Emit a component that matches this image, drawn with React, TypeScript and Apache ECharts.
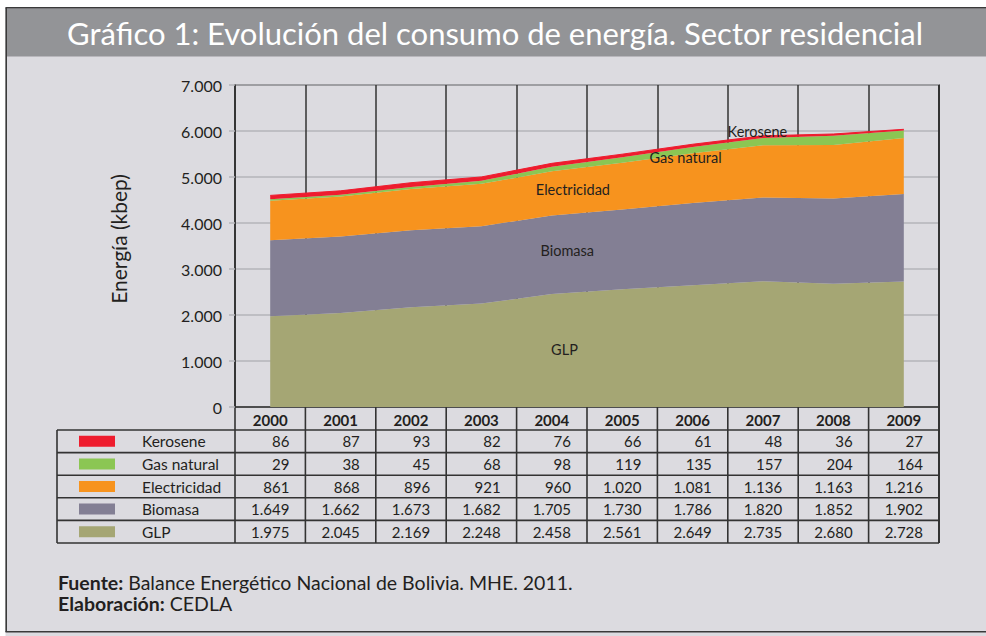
import React, { useEffect, useRef } from "react";
import * as echarts from "echarts";

const years = ["2000", "2001", "2002", "2003", "2004", "2005", "2006", "2007", "2008", "2009"];
const kerosene = [86, 87, 93, 82, 76, 66, 61, 48, 36, 27];
const gasNatural = [29, 38, 45, 68, 98, 119, 135, 157, 204, 164];
const electricidad = [861, 868, 896, 921, 960, 1020, 1081, 1136, 1163, 1216];
const biomasa = [1649, 1662, 1673, 1682, 1705, 1730, 1786, 1820, 1852, 1902];
const glp = [1975, 2045, 2169, 2248, 2458, 2561, 2649, 2735, 2680, 2728];

const seriesNames = ["Kerosene", "Gas natural", "Electricidad", "Biomasa", "GLP"];
const seriesData = [kerosene, gasNatural, electricidad, biomasa, glp];
const seriesColors = ["#ee1c2e", "#8bc653", "#f7931e", "#837f94", "#a5a674"];
// in-chart label anchors: [category index (fractional), value]
const labelAnchors: [number, number][] = [
  [6.92, 5990],
  [5.9, 5420],
  [4.3, 4720],
  [4.22, 3410],
  [4.18, 1240],
];

const TITLE = "Gráfico 1: Evolución del consumo de energía. Sector residencial";
const FONT = "Lato, 'Open Sans', sans-serif";
const TXT = "#231f20";
const LINE = "#333333";

const fmt = (v: number) => String(v).replace(/\B(?=(\d{3})+(?!\d))/g, ".");

export default function App() {
  const ref = useRef<HTMLDivElement>(null);
  useEffect(() => {
    document.body.style.margin = "0";
    const chart = echarts.init(ref.current!, null, { renderer: "svg" });
    const stackOrder = [4, 3, 2, 1, 0];
    const option: any = {
      animation: false,
      backgroundColor: "#dcdbe0",
      textStyle: { fontFamily: FONT },
      grid: {
        left: 235,
        right: 47,
        top: 85,
        bottom: 229,
        show: true,
        borderColor: LINE,
        borderWidth: 1.5,
        backgroundColor: "transparent",
      },
      xAxis: {
        type: "category",
        data: years,
        boundaryGap: true,
        axisLine: { lineStyle: { color: LINE, width: 1.5 } },
        axisTick: { show: false },
        splitLine: { show: true, lineStyle: { color: LINE, width: 1.5 } },
        axisLabel: {
          color: TXT,
          fontSize: 15,
          fontWeight: "bold",
          fontFamily: FONT,
          margin: 5,
        },
      },
      yAxis: {
        type: "value",
        min: 0,
        max: 7000,
        interval: 1000,
        axisLine: { show: true, lineStyle: { color: LINE, width: 1.5 } },
        axisTick: { show: true, length: 6, lineStyle: { color: "#b5b5ba", width: 1.5 } },
        splitLine: { show: true, lineStyle: { color: "#b5b5ba", width: 1.5 } },
        axisLabel: {
          color: TXT,
          fontSize: 16,
          fontFamily: FONT,
          margin: 13,
          formatter: (v: number) => fmt(v),
        },
      },
      series: stackOrder.map((i) => ({
        name: seriesNames[i],
        type: "line",
        stack: "total",
        data: seriesData[i],
        symbol: "none",
        lineStyle: { width: i === 0 ? 1 : 0, color: seriesColors[i] },
        areaStyle: { color: seriesColors[i], opacity: 1 },
        itemStyle: { color: seriesColors[i] },
        z: 2,
      })),
    };
    chart.setOption(option);

    const xs = years.map((_, i) => chart.convertToPixel({ xAxisIndex: 0 }, i) as number);
    const step = xs[1] - xs[0];
    const px = (f: number) => xs[0] + f * step;
    const py = (v: number) => chart.convertToPixel({ yAxisIndex: 0 }, v) as number;
    const yTop = py(7000);
    const y0 = py(0);
    const xLeft = xs[0] - step / 2;
    const xRight = xs[xs.length - 1] + step / 2;
    const headerH = 23;
    const rowH = 22.6;
    const tableTop = y0 + headerH;
    const tableBottom = tableTop + rowH * seriesNames.length;
    const tableLeft = 57;

    const g: any[] = [];
    // outer white strips and frame
    g.push({ type: "rect", shape: { x: 0, y: 0, width: 986, height: 7.5 }, style: { fill: "#ffffff" }, silent: true });
    g.push({ type: "rect", shape: { x: 0, y: 0, width: 5.5, height: 636 }, style: { fill: "#ffffff" }, silent: true });
    g.push({ type: "rect", shape: { x: 6, y: 8.5, width: 980, height: 48 }, style: { fill: "#939497" }, silent: true });
    g.push({ type: "line", shape: { x1: 5.5, y1: 7.8, x2: 986, y2: 7.8 }, style: { stroke: "#3a3a3a", lineWidth: 1.6 }, silent: true });
    g.push({ type: "line", shape: { x1: 6.2, y1: 7.8, x2: 6.2, y2: 632 }, style: { stroke: "#3a3a3a", lineWidth: 1.6 }, silent: true });
    g.push({ type: "line", shape: { x1: 5.5, y1: 631.8, x2: 986, y2: 631.8 }, style: { stroke: "#3a3a3a", lineWidth: 1.6 }, silent: true });
    g.push({
      type: "text",
      x: 495,
      y: 33,
      style: { text: TITLE, fill: "#ffffff", font: `31px ${FONT}`, align: "center", verticalAlign: "middle" },
      silent: true,
    });
    // y axis title
    g.push({
      type: "text",
      x: 118,
      y: 239,
      rotation: Math.PI / 2,
      style: { text: "Energía (kbep)", fill: TXT, font: `21px ${FONT}`, align: "center", verticalAlign: "middle" },
      silent: true,
    });

    // table lines
    const ln = (x1: number, y1: number, x2: number, y2: number, w = 1.6) =>
      g.push({ type: "line", shape: { x1, y1, x2, y2 }, style: { stroke: LINE, lineWidth: w }, silent: true });
    for (let k = 0; k <= years.length; k++) {
      const x = xLeft + k * step;
      ln(x, y0, x, tableBottom);
    }
    ln(xRight, yTop, xRight, tableBottom, 2);
    ln(tableLeft, tableTop, tableLeft, tableBottom);
    for (let r = 0; r <= seriesNames.length; r++) {
      const y = tableTop + r * rowH;
      ln(tableLeft, y, xRight, y);
    }
    // table rows
    seriesNames.forEach((name, r) => {
      const cy = tableTop + r * rowH + rowH / 2;
      g.push({ type: "rect", shape: { x: 79, y: cy - 5.5, width: 36, height: 11 }, style: { fill: seriesColors[r] }, silent: true });
      g.push({
        type: "text",
        x: 142,
        y: cy,
        style: { text: name, fill: TXT, font: `15.5px ${FONT}`, align: "left", verticalAlign: "middle" },
        silent: true,
      });
      seriesData[r].forEach((v, c) => {
        g.push({
          type: "text",
          x: xLeft + (c + 1) * step - 16,
          y: cy,
          style: { text: fmt(v), fill: TXT, font: `15px ${FONT}`, align: "right", verticalAlign: "middle" },
          silent: true,
        });
      });
    });
    // in-chart labels
    seriesNames.forEach((name, r) => {
      const [f, v] = labelAnchors[r];
      g.push({
        type: "text",
        x: px(f),
        y: py(v),
        z: 100,
        style: { text: name, fill: TXT, font: `14.5px ${FONT}`, align: "center", verticalAlign: "middle" },
        silent: true,
      });
    });
    // footer
    g.push({
      type: "text",
      x: 58,
      y: 572,
      style: {
        text: "{b|Fuente:} Balance Energético Nacional de Bolivia. MHE. 2011.\n{b|Elaboración:} CEDLA",
        fill: TXT,
        font: `19.5px ${FONT}`,
        lineHeight: 21,
        rich: {
          b: { fontWeight: "bold", fontSize: 19.5, fontFamily: FONT, fill: TXT, lineHeight: 21 },
        },
      },
      silent: true,
    });

    chart.setOption({ graphic: { elements: g } });
    return () => chart.dispose();
  }, []);
  return <div ref={ref} style={{ width: 986, height: 636 }} />;
}
